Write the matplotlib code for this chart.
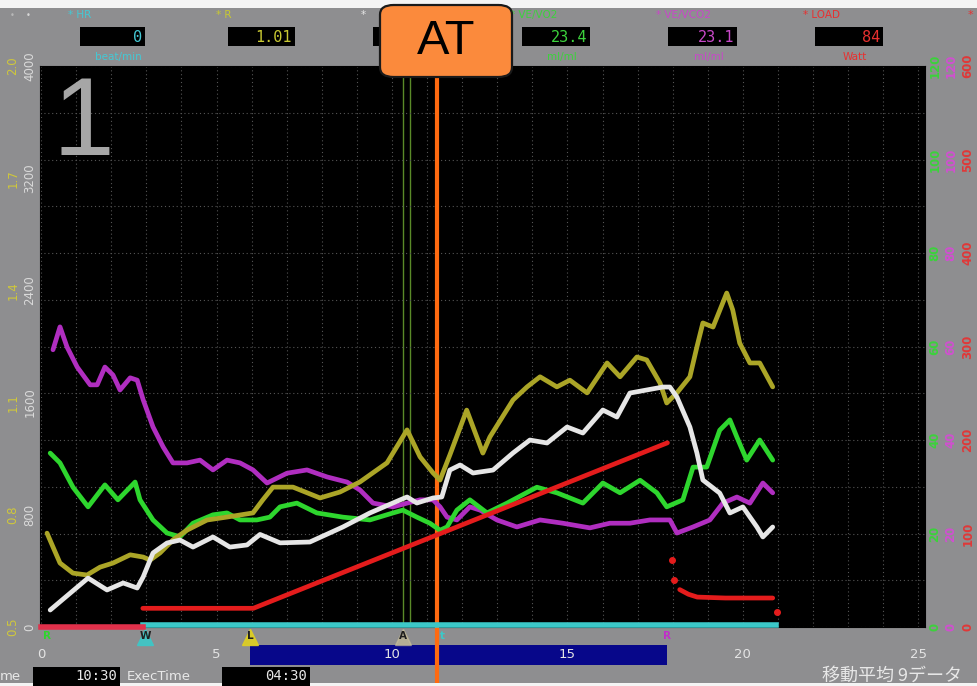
import numpy as np
import matplotlib
matplotlib.use("Agg")
import matplotlib.pyplot as plt
from matplotlib.patches import Rectangle, FancyBboxPatch
from matplotlib.transforms import blended_transform_factory as blend

# ---------------------------------------------------------------- data
# time in minutes
vo2_t = [0.26, 1.34, 1.88, 2.34, 2.74, 2.91, 3.19, 3.59, 3.96, 4.33, 4.90, 5.38,
         5.87, 6.24, 6.81, 7.66, 8.60, 9.37, 10.23, 10.43, 10.71, 11.17, 11.42,
         11.65, 11.94, 12.31, 12.88, 13.45, 13.93, 14.42, 14.99, 15.44, 16.01,
         16.41, 16.78, 17.26, 17.72, 17.92, 18.12, 18.49, 18.69, 18.86, 19.34,
         19.63, 20.00, 20.40, 20.57, 20.85]
vo2 = [121, 349, 264, 314, 278, 357, 528, 599, 620, 570, 642, 570,
       585, 660, 600, 606, 713, 813, 906, 927, 884, 920, 927,
       1119, 1155, 1098, 1119, 1241, 1333, 1312, 1426, 1383, 1547,
       1497, 1668, 1690, 1711, 1711, 1640, 1426, 1241, 1048, 955,
       813, 856, 713, 642, 713]

rer_t = [0.17, 0.34, 0.54, 0.91, 1.31, 1.68, 2.05, 2.54, 2.91, 3.11, 3.39, 3.76,
         4.16, 4.73, 5.30, 6.04, 6.32, 6.61, 7.18, 7.95, 8.52, 9.09, 9.86, 10.43,
         10.80, 11.17, 11.37, 11.65, 12.13, 12.59, 12.79, 13.45, 13.85, 14.22,
         14.70, 15.07, 15.56, 16.13, 16.50, 16.98, 17.26, 17.64, 17.83, 18.12,
         18.49, 18.69, 18.86, 19.15, 19.54, 19.71, 19.91, 20.20, 20.48, 20.85]
rer = [0.751, 0.714, 0.671, 0.644, 0.639, 0.660, 0.671, 0.693, 0.687, 0.679, 0.698, 0.733,
       0.759, 0.786, 0.794, 0.805, 0.840, 0.874, 0.874, 0.845, 0.861, 0.888, 0.939, 1.027,
       0.955, 0.912, 0.893, 0.960, 1.080, 0.965, 1.008, 1.107, 1.142, 1.169,
       1.142, 1.160, 1.126, 1.206, 1.169, 1.222, 1.214, 1.152, 1.099, 1.126,
       1.169, 1.249, 1.313, 1.302, 1.393, 1.348, 1.259, 1.206, 1.206, 1.142]

veo2_t = [0.26, 0.54, 0.91, 1.34, 1.82, 2.19, 2.68, 2.82, 3.19, 3.59, 3.96, 4.33,
          4.90, 5.30, 5.67, 6.15, 6.52, 6.81, 7.29, 7.86, 8.60, 9.37, 10.03, 10.31,
          10.71, 11.08, 11.37, 11.57, 11.85, 12.22, 12.71, 13.28, 14.13, 14.70,
          15.44, 16.01, 16.50, 17.07, 17.55, 17.83, 18.29, 18.58, 18.97, 19.34,
          19.63, 19.83, 20.11, 20.48, 20.85]
veo2 = [37.2, 35.1, 29.9, 25.7, 30.4, 27.2, 31.0, 27.2, 22.9, 20.1, 19.3, 22.2,
        24.0, 24.4, 22.9, 22.9, 23.5, 25.7, 26.5, 24.4, 23.5, 22.9, 24.4, 25.0,
        23.5, 22.2, 20.7, 21.4, 25.0, 27.2, 24.4, 26.5, 29.9, 28.7,
        26.5, 30.8, 28.7, 31.4, 28.7, 25.7, 27.2, 34.2, 34.2, 42.1,
        44.3, 40.6, 35.7, 40.0, 35.7]

veco2_t = [0.34, 0.54, 0.74, 1.03, 1.40, 1.60, 1.82, 2.05, 2.25, 2.54, 2.74, 2.91,
           3.19, 3.48, 3.76, 4.16, 4.53, 4.90, 5.30, 5.67, 6.04, 6.44, 7.01, 7.58,
           8.15, 8.72, 9.09, 9.46, 10.03, 10.43, 10.80, 11.17, 11.37, 11.57, 11.85,
           12.22, 12.51, 12.99, 13.56, 14.22, 14.87, 15.64, 16.21, 16.78, 17.35,
           17.92, 18.12, 18.58, 19.06, 19.43, 19.83, 20.20, 20.57, 20.85]
veco2 = [59.3, 64.2, 59.9, 55.6, 51.8, 51.8, 55.6, 53.9, 50.7, 53.3, 52.8, 48.6,
         42.8, 38.5, 35.1, 35.1, 35.7, 33.6, 35.7, 35.1, 33.6, 30.8, 32.9, 33.6,
         32.1, 31.0, 29.3, 26.5, 25.7, 26.5, 27.2, 27.2, 25.7, 23.5, 22.9,
         25.7, 25.0, 22.9, 21.4, 22.9, 22.2, 21.2, 22.2, 22.2, 22.9,
         22.9, 20.1, 21.4, 22.9, 26.5, 27.8, 26.5, 30.8, 28.7]

# work rate protocol (W): rest, warm-up, ramp
load_rest_t = [0.0, 2.90]
load_rest = [0, 0]
load_t = [2.90, 6.05, 17.85]
load = [20, 20, 197]
load_rec_t = [17.98, 18.05, 18.20, 18.45, 18.70, 19.50, 20.40, 20.85, 20.97]
load_rec = [72, 50, 40, 35, 32, 31, 31, 31, 16]

hr_t = [2.90, 20.95]
hr = [0, 0]

# events
event_t = [0.17, 2.97, 5.95, 10.31, 11.45, 17.83]
event_lbl = ["R", "W", "L", "A", "t", "R"]
cursor_t = [10.31, 10.51]
at_time = 11.28
exercise_span = [5.95, 17.83]

# readings at the cursor (the VO2 field sits under the AT tag)
hdr_names = ["* HR", "* R", "*", "* VE/VO2", "* VE/VCO2", "* LOAD"]
hdr_values = ["0", "1.01", "", "23.4", "23.1", "84"]
hdr_units = ["beat/min", "", "", "ml/ml", "ml/ml", "Watt"]

time_ticks = [0, 5, 10, 15, 20, 25]
vo2_ticks = [0, 800, 1600, 2400, 3200, 4000]
rer_ticks = ["0.5", "0.8", "1.1", "1.4", "1.7", "2.0"]
vent_ticks = [0, 20, 40, 60, 80, 100, 120]
load_ticks = [0, 100, 200, 300, 400, 500, 600]

# ---------------------------------------------------------------- figure
W, H = 977, 686
fig = plt.figure(figsize=(W / 100, H / 100), dpi=100)
fig.patch.set_facecolor("#8e8e90")


def fx(x):
    return x / W


def fy(y):
    return 1 - y / H


def frect(x0, y0, x1, y1, **kw):
    fig.patches.append(Rectangle((fx(x0), fy(y1)), fx(x1) - fx(x0), fy(y0) - fy(y1),
                                 transform=fig.transFigure, **kw))


# white strips at the very top/bottom
frect(0, 0, W, 8, facecolor="#f4f4f4", edgecolor="none")
frect(0, 683, W, H, facecolor="#f4f4f4", edgecolor="none")

L, R, T, B = 40, 925, 66, 627
ax = fig.add_axes([fx(L), fy(B), (R - L) / W, (B - T) / H])
ax.set_facecolor("black")
ax.set_xlim(-0.03, 25.19)
ax.set_ylim(0, 12)
ax.set_xticks(np.arange(0, 26))
ax.set_yticks(np.arange(0, 13))
ax.tick_params(length=0, labelbottom=False, labelleft=False)
ax.grid(color="#555555", ls=(0, (1, 2.5)), lw=0.8)
for s in ax.spines.values():
    s.set_color("black")


def twin(lo, hi):
    a = ax.twinx()
    a.set_ylim(lo, hi)
    a.axis("off")
    return a


ax_hr = twin(-1, 250)
ax_m = twin(0, 120)
ax_g = twin(0, 120)
ax_y = twin(0.5, 2.0)
ax_w = twin(0, 4000)
ax_r = twin(0, 600)

lw = 3.4
kw = dict(lw=lw, solid_capstyle="round", solid_joinstyle="round")
ax_hr.plot(hr_t, hr, color="#3cc8c8", lw=4, clip_on=False)
ax_m.plot(veco2_t, veco2, color="#b02ec0", **kw)
ax_g.plot(veo2_t, veo2, color="#2ed62e", **kw)
ax_y.plot(rer_t, rer, color="#aba527", **kw)
ax_w.plot(vo2_t, vo2, color="#e6e6e6", **kw)
ax_r.plot(load_rest_t, load_rest, color="#e0304a", lw=4, clip_on=False)
ax_r.plot(load_t, load, color="#e41c1c", **kw)
ax_r.plot(load_rec_t[2:-1], load_rec[2:-1], color="#e41c1c", **kw)
ax_r.plot([load_rec_t[i] for i in (0, 1, -1)], [load_rec[i] for i in (0, 1, -1)],
          ls="none", marker="o", ms=4, color="#e41c1c")

# cursor lines
for c in cursor_t:
    ax.axvline(c, color="#5a8a28", lw=1.0, zorder=1)

# big window number
ax.text(0.014, 0.985, "1", transform=ax.transAxes, fontsize=80, color="#a6a6a6",
        va="top", ha="left", family="Liberation Sans")

# ---------------------------------------------------------------- axis labels
tx = blend(ax.transData, fig.transFigure)
for t in time_ticks:
    ax.text(t, fy(655), str(t), transform=tx, color="#e4e4e4", fontsize=9.5,
            ha="center", va="center", zorder=5, clip_on=False)

# exercise bar
ax.add_patch(Rectangle((exercise_span[0], fy(665)), exercise_span[1] - exercise_span[0],
                       fy(645) - fy(665), transform=tx, facecolor="#07078a",
                       edgecolor="none", clip_on=False, zorder=2))

ev_colors = ["#2ed62e", "#3cc8c8", "#e0d020", "#cfc49a", "#3cc8c8", "#c030c8"]
for t, lbl, c in zip(event_t, event_lbl, ev_colors):
    if lbl in ("W", "L", "A"):
        ax.plot([t], [fy(637)], transform=tx, marker="^", ms=11, color=c,
                clip_on=False, zorder=3, alpha=0.9 if lbl != "A" else 0.6)
        tc = "#202020"
    else:
        tc = c
    ax.text(t, fy(636), lbl, transform=tx, color=tc, fontsize=7.5, fontweight="bold",
            ha="center", va="center", clip_on=False, zorder=4)

# left scales
ty_w = blend(fig.transFigure, ax_w.transData)
for v in vo2_ticks:
    ax_w.text(fx(30), v, str(v), transform=ty_w, rotation=90, color="#dadada",
              fontsize=8.5, ha="center", va="center", clip_on=False)
ty_y = blend(fig.transFigure, ax_y.transData)
for s in rer_ticks:
    ax_y.text(fx(13), float(s), s, transform=ty_y, rotation=90, color="#d0c83a",
              fontsize=8.5, ha="center", va="center", clip_on=False)

# right scales
ty_g = blend(fig.transFigure, ax_g.transData)
for v in vent_ticks:
    ax_g.text(fx(935), v, str(v), transform=ty_g, rotation=90, color="#3cd23c",
              fontsize=8.5, fontweight="bold", ha="center", va="center", clip_on=False)
    ax_g.text(fx(951), v, str(v), transform=ty_g, rotation=90, color="#d050d0",
              fontsize=8.5, fontweight="bold", ha="center", va="center", clip_on=False)
ty_r = blend(fig.transFigure, ax_r.transData)
for v in load_ticks:
    ax_r.text(fx(968), v, str(v), transform=ty_r, rotation=90, color="#e03838",
              fontsize=8.5, fontweight="bold", ha="center", va="center", clip_on=False)

# ---------------------------------------------------------------- header
hdr_cols = ["#44c8d4", "#c8c832", "#e6e6e6", "#3cd23c", "#c848c8", "#e83030"]
hdr_box = [(80, 145), (228, 295), (373, 442), (522, 590), (668, 737), (815, 883)]
for name, val, unit, col, (x0, x1) in zip(hdr_names, hdr_values, hdr_units, hdr_cols, hdr_box):
    fig.text(fx(x0 - 12), fy(15), name, color=col, fontsize=7.5, ha="left", va="center")
    frect(x0, 27, x1, 46, facecolor="black", edgecolor="none")
    if val:
        fig.text(fx(x1 - 3), fy(37), val, color=col, fontsize=11, ha="right", va="center",
                 family="DejaVu Sans Mono")
    if unit:
        fig.text(fx((x0 + x1) / 2 + 6), fy(57), unit, color=col, fontsize=7.5,
                 ha="center", va="center")
fig.text(fx(970), fy(15), "*", color="#e83030", fontsize=8, ha="center", va="center")
fig.text(fx(12), fy(15), "•", color="#b8b8b8", fontsize=6, ha="center", va="center")
fig.text(fx(28), fy(15), "•", color="#d8d8d8", fontsize=6, ha="center", va="center")

# ---------------------------------------------------------------- footer
fig.text(fx(0), fy(676), "me", color="#e8e8e8", fontsize=9.5, ha="left", va="center")
frect(33, 667, 120, 686, facecolor="black", edgecolor="none")
fig.text(fx(117), fy(676), "10:30", color="#e8e8e8", fontsize=10, ha="right", va="center",
         family="DejaVu Sans Mono")
fig.text(fx(127), fy(676), "ExecTime", color="#e8e8e8", fontsize=9.5, ha="left", va="center")
frect(222, 667, 310, 686, facecolor="black", edgecolor="none")
fig.text(fx(307), fy(676), "04:30", color="#e8e8e8", fontsize=10, ha="right", va="center",
         family="DejaVu Sans Mono")
fig.text(fx(822), fy(676), "移動平均 9データ", color="#e8e8e8", fontsize=13,
         ha="left", va="center", family=["Noto Sans CJK JP", "DejaVu Sans"])

# ---------------------------------------------------------------- AT marker
ax.axvline(at_time, ymin=(B - H) / (B - T), ymax=(B - 78) / (B - T), color="#ff6a10",
           lw=3, clip_on=False, zorder=10)
fig.patches.append(FancyBboxPatch((fx(380), fy(77)), fx(512) - fx(380), fy(5) - fy(77),
                                  boxstyle="round,pad=0,rounding_size=0.014",
                                  transform=fig.transFigure, facecolor="#fb8a3c",
                                  edgecolor="#1a1a1a", lw=1.6, zorder=20))
fig.text(fx(446), fy(42), "AT", color="black", fontsize=35, ha="center", va="center",
         family="Liberation Sans", zorder=21)

fig.savefig("out.png", dpi=100, facecolor=fig.get_facecolor())
